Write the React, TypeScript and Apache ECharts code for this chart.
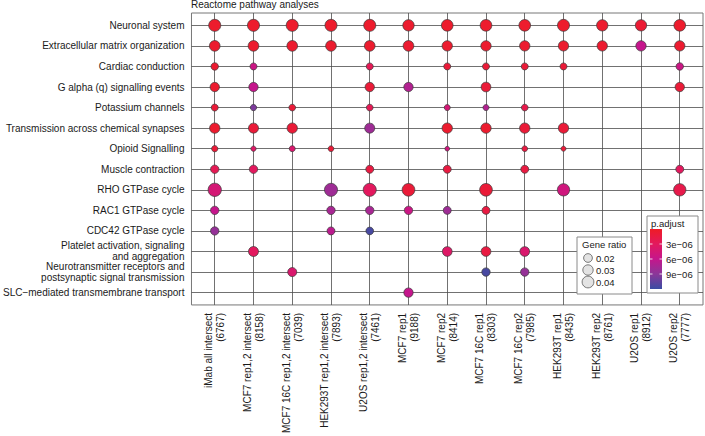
import React, { useEffect, useRef } from "react";
import * as echarts from "echarts";

const pathways = [
  "Neuronal system",
  "Extracellular matrix organization",
  "Cardiac conduction",
  "G alpha (q) signalling events",
  "Potassium channels",
  "Transmission across chemical synapses",
  "Opioid Signalling",
  "Muscle contraction",
  "RHO GTPase cycle",
  "RAC1 GTPase cycle",
  "CDC42 GTPase cycle",
  "Platelet activation, signaling\nand aggregation",
  "Neurotransmitter receptors and\npostsynaptic signal transmission",
  "SLC\u2212mediated transmembrane transport",
];

const samples = [
  "iMab all intersect",
  "MCF7 rep1,2 intersect",
  "MCF7 16C rep1,2 intersect",
  "HEK293T rep1,2 intersect",
  "U2OS rep1,2 intersect",
  "MCF7 rep1",
  "MCF7 rep2",
  "MCF7 16C rep1",
  "MCF7 16C rep2",
  "HEK293T rep1",
  "HEK293T rep2",
  "U2OS rep1",
  "U2OS rep2",
];
const sampleCounts = [6767, 8158, 7039, 7893, 7461, 9188, 8414, 8303, 7985, 8435, 8761, 8912, 7777];

// [sample index, gene ratio, p.adjust]
const neuronalSystem = [[0, 0.042, 0.4e-6], [1, 0.042, 0.4e-6], [2, 0.042, 0.4e-6], [3, 0.042, 0.4e-6], [4, 0.042, 0.4e-6], [5, 0.037, 0.5e-6], [6, 0.039, 0.4e-6], [7, 0.039, 0.4e-6], [8, 0.039, 0.4e-6], [9, 0.0416, 0.4e-6], [10, 0.0364, 0.5e-6], [11, 0.0364, 0.8e-6], [12, 0.039, 0.4e-6]];
const extracellularMatrix = [[0, 0.032, 0.5e-6], [1, 0.032, 0.5e-6], [2, 0.032, 0.5e-6], [3, 0.032, 0.5e-6], [4, 0.032, 0.5e-6], [5, 0.032, 0.6e-6], [6, 0.0296, 0.5e-6], [7, 0.0296, 0.5e-6], [8, 0.0296, 0.5e-6], [9, 0.0296, 0.5e-6], [10, 0.0296, 0.6e-6], [11, 0.0296, 6e-6], [12, 0.0296, 0.6e-6]];
const cardiacConduction = [[0, 0.0138, 0.6e-6], [1, 0.0116, 5.5e-6], [4, 0.0116, 2.5e-6], [6, 0.0116, 1e-6], [7, 0.0116, 1e-6], [8, 0.0116, 1e-6], [9, 0.0116, 1e-6], [12, 0.0138, 5.5e-6]];
const gAlphaQ = [[0, 0.0234, 0.5e-6], [1, 0.0234, 6e-6], [4, 0.0234, 1e-6], [5, 0.0234, 7e-6], [7, 0.0258, 1e-6], [12, 0.0234, 1e-6]];
const potassiumChannels = [[0, 0.0116, 1e-6], [1, 0.0086, 9.5e-6], [2, 0.0103, 1e-6], [4, 0.0103, 2.5e-6], [6, 0.0074, 4.5e-6], [7, 0.0074, 7e-6], [8, 0.0103, 2e-6]];
const transmissionSynapses = [[0, 0.0296, 0.5e-6], [1, 0.0277, 1e-6], [2, 0.0296, 1e-6], [4, 0.0277, 8e-6], [6, 0.0296, 0.5e-6], [7, 0.0296, 0.5e-6], [8, 0.0296, 1e-6], [9, 0.0296, 1e-6]];
const opioidSignalling = [[0, 0.0086, 1e-6], [1, 0.0049, 3.5e-6], [2, 0.0074, 4e-6], [3, 0.0063, 1e-6], [6, 0.0031, 5e-6], [8, 0.0063, 1.5e-6], [9, 0.004, 1e-6]];
const muscleContraction = [[0, 0.018, 2.5e-6], [1, 0.018, 3e-6], [4, 0.0163, 1.5e-6], [6, 0.0163, 1.5e-6], [8, 0.0163, 1.5e-6], [12, 0.0163, 3e-6]];
const rhoGTPase = [[0, 0.052, 4.5e-6], [3, 0.05, 8e-6], [4, 0.05, 3e-6], [5, 0.047, 1e-6], [7, 0.047, 1e-6], [9, 0.044, 5e-6], [12, 0.044, 2e-6]];
const rac1GTPase = [[0, 0.018, 6e-6], [3, 0.018, 7.5e-6], [4, 0.018, 7.5e-6], [5, 0.018, 5.5e-6], [6, 0.0163, 8e-6], [7, 0.0163, 1.5e-6]];
const cdc42GTPase = [[0, 0.018, 8.5e-6], [3, 0.0163, 6.5e-6], [4, 0.0148, 11.5e-6]];
const plateletActivation = [[1, 0.0277, 3e-6], [6, 0.0258, 3.5e-6], [7, 0.0258, 1.5e-6], [8, 0.0258, 4e-6]];
const neurotransmitterReceptors = [[2, 0.0217, 4e-6], [7, 0.018, 11.5e-6], [8, 0.018, 8.5e-6]];
const slcTransport = [[5, 0.0234, 6e-6]];

const hitsByPathway = [
  neuronalSystem, extracellularMatrix, cardiacConduction, gAlphaQ, potassiumChannels,
  transmissionSynapses, opioidSignalling, muscleContraction, rhoGTPase, rac1GTPase,
  cdc42GTPase, plateletActivation, neurotransmitterReceptors, slcTransport,
];

const ratioLegend = [0.02, 0.03, 0.04];
const pTicks = [3e-6, 6e-6, 9e-6];
const P_MIN = 0;
const P_MAX = 1.2e-5;
const PALETTE = ["#EE1C25", "#E3195E", "#C5168C", "#8B3799", "#3A4CA3"];

const FONT = "Liberation Sans, Arial, sans-serif";
const dotSize = (r: number) => Math.sqrt(12.4 + 3165 * r);

export default function App() {
  const ref = useRef<HTMLDivElement>(null);
  useEffect(() => {
    if (!ref.current) return;
    const chart = echarts.init(ref.current, null, { renderer: "svg" });

    const data: any[] = [];
    hitsByPathway.forEach((hits, row) => {
      hits.forEach(([col, ratio, p]) => data.push([col, row, ratio, p]));
    });

    const xIdx = samples.map((_, i) => i);
    const yIdx = pathways.map((_, i) => i);

    const cbX = 650, cbY = 229, cbW = 12, cbH = 60;
    const pY = (v: number) => cbY + (cbH * (v - P_MIN)) / (P_MAX - P_MIN);

    const graphics: any[] = [
      { type: "rect", shape: { x: 577, y: 237, width: 55, height: 57 }, style: { fill: "#fff", stroke: "#8a8a8a", lineWidth: 1 }, z: 10 },
      { type: "text", x: 582, y: 244, style: { text: "Gene ratio", font: `9.5px ${FONT}`, fill: "#1a1a1a", verticalAlign: "middle" }, z: 11 },
      ...ratioLegend.flatMap((r, i) => [
        { type: "circle", shape: { cx: 588, cy: 258 + i * 12, r: dotSize(r) / 2 }, style: { fill: "#e3e3e3", stroke: "#444", lineWidth: 0.7 }, z: 11 },
        { type: "text", x: 596, y: 258 + i * 12, style: { text: r.toFixed(2), font: `9.5px ${FONT}`, fill: "#1a1a1a", verticalAlign: "middle" }, z: 11 },
      ]),
      { type: "rect", shape: { x: 647, y: 216, width: 51, height: 77 }, style: { fill: "#fff", stroke: "#8a8a8a", lineWidth: 1 }, z: 10 },
      { type: "text", x: 651, y: 223, style: { text: "p.adjust", font: `9.5px ${FONT}`, fill: "#1a1a1a", verticalAlign: "middle" }, z: 11 },
      {
        type: "rect",
        shape: { x: cbX, y: cbY, width: cbW, height: cbH },
        style: {
          fill: new echarts.graphic.LinearGradient(0, 0, 0, 1, PALETTE.map((c, i) => ({ offset: i / (PALETTE.length - 1), color: c }))),
        },
        z: 11,
      },
      ...pTicks.flatMap((v) => [
        { type: "line", shape: { x1: cbX, y1: pY(v), x2: cbX + 2.5, y2: pY(v) }, style: { stroke: "#fff", lineWidth: 0.8 }, z: 12 },
        { type: "line", shape: { x1: cbX + cbW - 2.5, y1: pY(v), x2: cbX + cbW, y2: pY(v) }, style: { stroke: "#fff", lineWidth: 0.8 }, z: 12 },
        { type: "text", x: cbX + cbW + 4, y: pY(v), style: { text: v.toExponential(0).replace("e-", "e\u22120"), font: `9.5px ${FONT}`, fill: "#1a1a1a", verticalAlign: "middle" }, z: 11 },
      ]),
    ];

    chart.setOption({
      animation: false,
      backgroundColor: "#fff",
      title: {
        text: "Reactome pathway analyses",
        left: 191,
        top: -1,
        padding: 0,
        textStyle: { fontSize: 10, fontWeight: "normal", color: "#1a1a1a", fontFamily: FONT },
      },
      grid: { left: 189, top: 13, right: 2, bottom: 128, show: true, borderColor: "#777", borderWidth: 1, backgroundColor: "transparent" },
      xAxis: {
        type: "value",
        min: -0.6,
        max: samples.length - 1 + 0.6,
        axisLine: { show: false },
        axisTick: { show: false },
        splitLine: { show: false },
        axisLabel: {
          customValues: xIdx,
          rotate: 90,
          margin: 8,
          fontSize: 10,
          lineHeight: 12,
          color: "#1a1a1a",
          fontFamily: FONT,
          formatter: (v: number) => `${samples[v]}\n(${sampleCounts[v]})`,
        },
      },
      yAxis: {
        type: "value",
        inverse: true,
        min: -0.6,
        max: pathways.length - 1 + 0.6,
        axisLine: { show: false },
        axisTick: { show: false },
        splitLine: { show: false },
        axisLabel: {
          customValues: yIdx,
          margin: 7,
          fontSize: 10,
          lineHeight: 11,
          color: "#1a1a1a",
          fontFamily: FONT,
          formatter: (v: number) => pathways[v],
        },
      },
      visualMap: {
        show: false,
        type: "continuous",
        seriesIndex: 1,
        dimension: 3,
        min: P_MIN,
        max: P_MAX,
        inRange: { color: PALETTE },
      },
      series: [
        {
          type: "scatter",
          data: [],
          silent: true,
          z: 1,
          markLine: {
            silent: true,
            z: 1,
            symbol: "none",
            label: { show: false },
            lineStyle: { color: "#4d4d4d", width: 0.8, type: "solid" },
            data: [...xIdx.map((i) => ({ xAxis: i })), ...yIdx.map((i) => ({ yAxis: i }))],
          },
        },
        {
          type: "scatter",
          z: 3,
          data,
          symbolSize: (v: number[]) => dotSize(v[2]),
          itemStyle: { borderColor: "#3a3a3a", borderWidth: 0.7, opacity: 1 },
        },
      ],
      graphic: graphics,
    });
    return () => chart.dispose();
  }, []);
  return <div ref={ref} style={{ position: "fixed", left: 0, top: 0, width: 705, height: 436 }} />;
}
